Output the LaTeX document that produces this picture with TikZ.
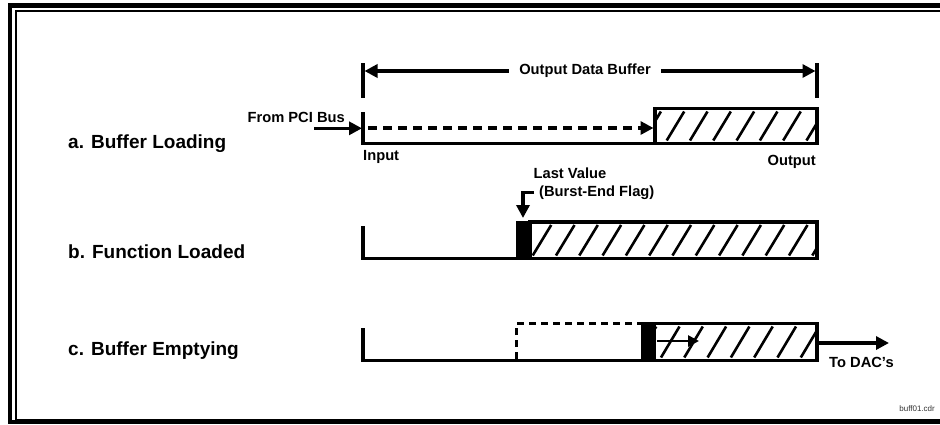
\documentclass[tikz,border=0pt]{standalone}
\usepackage{fontspec}
\setmainfont{Liberation Sans}
\usetikzlibrary{arrows.meta}
\begin{document}
\begin{tikzpicture}[x=1pt,y=-1pt,
  >={Triangle[length=13pt,width=13pt]},
  buf/.style={line width=3.3pt},
  hatch/.style={line width=2.6pt},
  big/.style={font=\fontsize{19}{22}\selectfont\bfseries,inner sep=0pt},
  small/.style={font=\fontsize{14.7}{17}\selectfont\bfseries,inner sep=0pt}]
\useasboundingbox (0,0) rectangle (940,424);
% cornice
\draw[line width=4.5pt] (10,5.5) rectangle (960,422);
\draw[line width=1.8pt] (15.8,10.8) rectangle (955,419.5);
% titoli
\node[big,anchor=base west] (titA) at (68,148) {a. Buffer Loading};
\node[big,anchor=base west] (titB) at (68,258) {b. Function Loaded};
\node[big,anchor=base west] (titC) at (68,355) {c. Buffer Emptying};
% quota
\draw[buf] (363,63) -- (363,98);
\draw[buf] (817,63) -- (817,98);
\coordinate (qL) at (364.5,71);
\coordinate (qR) at (815.5,71);
\draw[buf,<->] (qL) -- (qR);
\node[small,fill=white,inner xsep=10pt,inner ysep=2pt] (odb) at (585,71) {Output Data Buffer};
% a. caricamento
\draw[buf] (363,112) |- (655,143.5);
\draw[buf] (655,108.5) rectangle (817,143.5);
\begin{scope}
\clip (655,108.5) rectangle (817,143.5);
\foreach \x in {643.4,666.7,...,830} \draw[hatch] (\x,140.5) -- ++(17.5,-29);
\end{scope}
\coordinate (dIn) at (368,128);
\coordinate (dOut) at (653.5,128);
\draw[buf,dash pattern=on 9pt off 6pt,->] (dIn) -- (dOut);
\node[small,anchor=base east] (pci) at (345,122) {From PCI Bus};
\coordinate (pciS) at (314,128.3);
\coordinate (pciE) at (362,128.3);
\draw[buf,->] (pciS) -- (pciE);
\node[small,anchor=base west] (inp) at (363,160) {Input};
\node[small,anchor=base east] (outp) at (816,165) {Output};
% b. funzione caricata
\draw[buf] (363,226) |- (517,258.5);
\fill (515.5,220.5) rectangle (531,260);
\draw[buf] (530,222) rectangle (817,258.5);
\begin{scope}
\clip (530,222) rectangle (817,258.5);
\foreach \x in {509.4,532.7,...,840} \draw[hatch] (\x,255.5) -- ++(18.5,-30.5);
\end{scope}
\node[small,anchor=base] (lastv) at (570,178) {Last Value};
\node[small,anchor=base west] (flag) at (539,196) {(Burst-End Flag)};
\coordinate (flagT) at (523,218);
\draw[buf,->] ([xshift=-5pt]flag.west) -| (flagT);
% c. svuotamento
\draw[buf] (363,328) |- (641,360.5);
\draw[line width=2.6pt,dash pattern=on 7pt off 5pt] (516.7,359) |- (641,323.3);
\fill (640.5,321.7) rectangle (654.5,362.2);
\draw[buf] (654,323.3) rectangle (817,360.5);
\begin{scope}
\clip (654,323.3) rectangle (817,360.5);
\foreach \x in {637.7,661,...,840} \draw[hatch] (\x,357.5) -- ++(18.5,-31);
\end{scope}
\coordinate (mvS) at (657,341);
\coordinate (mvE) at (699,341);
\draw[line width=2.6pt,-{Triangle[length=11pt,width=11pt]}] (mvS) -- (mvE);
\coordinate (dacS) at (817,343);
\coordinate (dacE) at (889,343);
\draw[buf,->] (dacS) -- (dacE);
\node[small,anchor=base west] (dac) at (829,367) {To DAC’s};
\node[font=\fontsize{8}{9}\selectfont,text=black!80,anchor=base east,inner sep=0pt] (file) at (935,411) {buff01.cdr};
\end{tikzpicture}
\end{document}
